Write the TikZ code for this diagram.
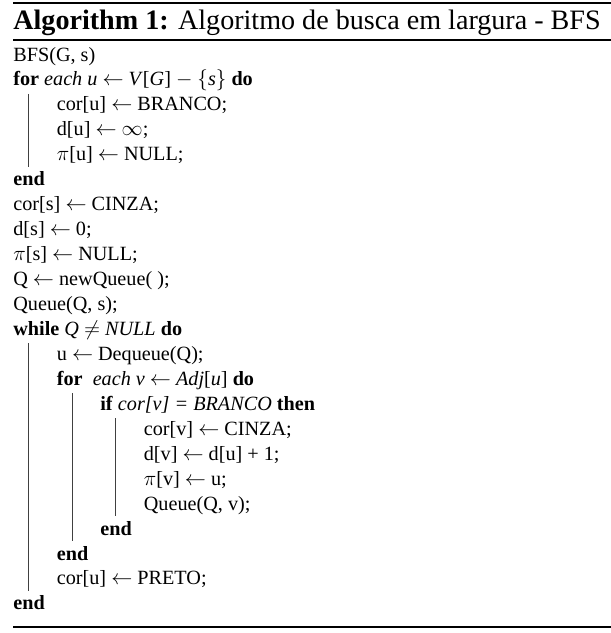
\documentclass[tikz,border=0pt]{standalone}
\usepackage{fontspec}
\setmainfont{Liberation Serif}
\usetikzlibrary{positioning}
\newcommand{\kw}[1]{\textbf{#1}}

\begin{document}
\begin{tikzpicture}[x=0.02cm, y=-0.02cm,
		line/.style={anchor=base west, inner sep=0pt, font=\fontsize{11.5}{13.9}\selectfont},
		vbar/.style={black!75, line width=0.5pt}]
	\useasboundingbox (0,0) rectangle (611,633);
	\draw[line width=1.4pt] (13,3) -- (611,3);
	\node[line, font=\fontsize{16}{19}\selectfont] (title) at (13,29) {\textbf{Algorithm 1:} Algoritmo de busca em largura - BFS};
	\draw[line width=0.6pt] (13,40) -- (611,40);
	\foreach \lv/\txt [count=\i from 0] in {
			0/{BFS(G, s)},
			0/{\kw{for} \textit{each u} $\gets$ \textit{V}[\textit{G}] $-$ $\{$\textit{s}$\}$ \kw{do}},
			1/{cor[u] $\gets$ BRANCO;},
			1/{d[u] $\gets$ $\infty$;},
			1/{$\pi$[u] $\gets$ NULL;},
			0/{\kw{end}},
			0/{cor[s] $\gets$ CINZA;},
			0/{d[s] $\gets$ 0;},
			0/{$\pi$[s] $\gets$ NULL;},
			0/{Q $\gets$ newQueue( );},
			0/{Queue(Q, s);},
			0/{\kw{while} \textit{Q} $\neq$ \textit{NULL} \kw{do}},
			1/{u $\gets$ Dequeue(Q);},
			1/{\kw{for}~ \textit{each v} $\gets$ \textit{Adj}[\textit{u}] \kw{do}},
			2/{\kw{if} \textit{cor[v] = BRANCO} \kw{then}},
			3/{cor[v] $\gets$ CINZA;},
			3/{d[v] $\gets$ d[u] + 1;},
			3/{$\pi$[v] $\gets$ u;},
			3/{Queue(Q, v);},
			2/{\kw{end}},
			1/{\kw{end}},
			1/{cor[u] $\gets$ PRETO;},
			0/{\kw{end}}} {
		\node[line] (l\i) at ({13+43.5*\lv},{61+24.95*\i}) {\txt};
	}
	% block bars
	\foreach \x/\a/\b in {28/1/5, 28/11/22, 72/13/20, 115/14/19} {
		\draw[vbar] (\x,{61+24.95*\a+8}) -- (\x,{61+24.95*\b-19});
	}
	\draw[line width=1.4pt] (13,627) -- (611,627);
\end{tikzpicture}
\end{document}
